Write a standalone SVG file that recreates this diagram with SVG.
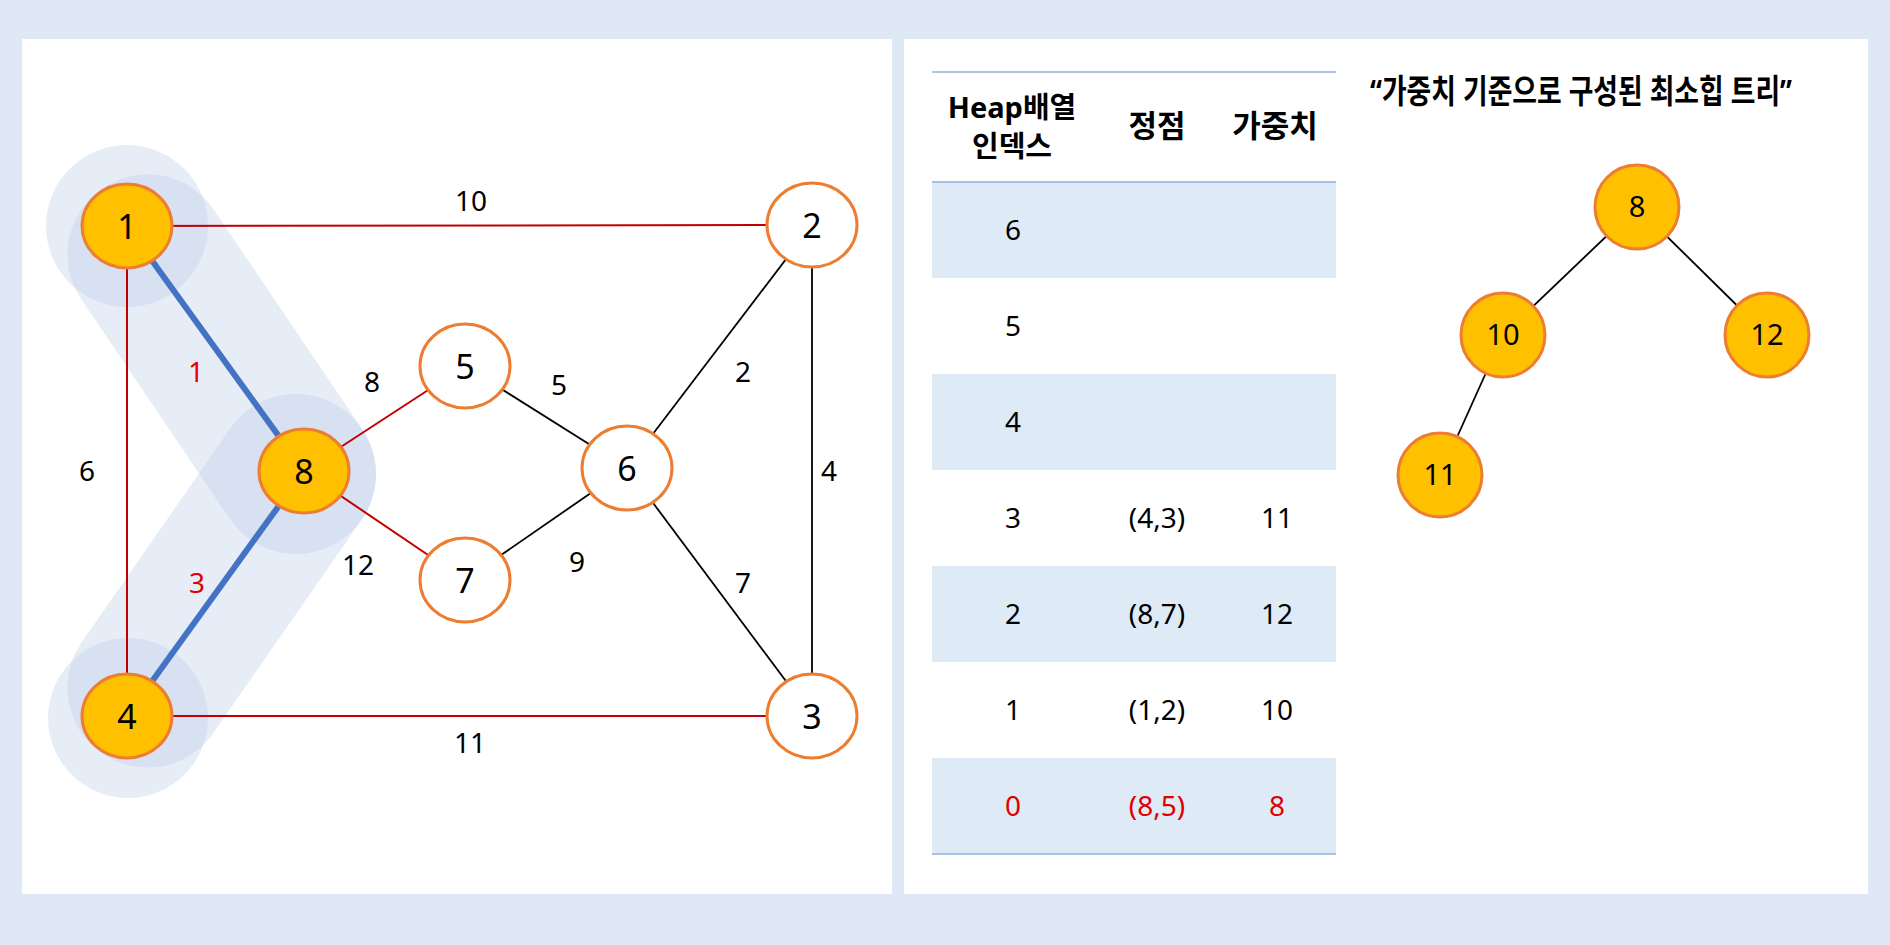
<svg xmlns="http://www.w3.org/2000/svg" width="1890" height="945" viewBox="0 0 1890 945">
<style>
.num{font-family:"Noto Sans","Open Sans","Noto Sans CJK KR",sans-serif;fill:#000;text-anchor:middle}
.lbl{font-size:28px}
.nd{font-size:34px}
.tn{font-size:29px}
.kr{font-family:"Noto Sans","Noto Sans CJK KR",sans-serif;font-weight:bold;fill:#000;text-anchor:middle;font-size:31px}
.kr2{font-size:29px}
.red{fill:#e00000}
.gold{fill:#ffc000;stroke:#ed7d31;stroke-width:3}
.wht{fill:#fff;stroke:#ed7d31;stroke-width:3}
.er{stroke:#c00000;stroke-width:2;fill:none}
.eb{stroke:#000;stroke-width:1.8;fill:none}
.ebl{stroke:#4472c4;stroke-width:6;fill:none}
.hl{fill:#b4c7e7;opacity:0.32}
.hlc{stroke:#b4c7e7;stroke-opacity:0.32;stroke-width:160;stroke-linecap:round;fill:none}
.row{fill:#deeaf6}
.tl{stroke:#8fb0dc;stroke-width:1.5}
</style>
<rect x="0" y="0" width="1890" height="945" fill="#dee9f5"/>
<rect x="22" y="39" width="870" height="855" fill="#fff"/>
<rect x="904" y="39" width="964" height="855" fill="#fff"/>

<g id="highlight">
<circle class="hl" cx="127" cy="226" r="81"/>
<circle class="hl" cx="128" cy="718" r="80"/>
<line class="hlc" x1="147.5" y1="254.4" x2="296" y2="474"/>
<line class="hlc" x1="147.5" y1="687.6" x2="296" y2="474"/>
</g>

<g id="connectors">
<line class="er" x1="127" y1="226" x2="812" y2="225"/>
<line class="er" x1="127" y1="226" x2="127" y2="716"/>
<line class="er" x1="127" y1="716" x2="812" y2="716"/>
<line class="er" x1="304" y1="471" x2="465" y2="366"/>
<line class="er" x1="304" y1="471" x2="465" y2="580"/>
<line class="eb" x1="465" y1="366" x2="627" y2="468"/>
<line class="eb" x1="465" y1="580" x2="627" y2="468"/>
<line class="eb" x1="812" y1="225" x2="627" y2="468"/>
<line class="eb" x1="812" y1="716" x2="627" y2="468"/>
<line class="eb" x1="812" y1="225" x2="812" y2="716"/>
<line class="ebl" x1="127" y1="226" x2="304" y2="471"/>
<line class="ebl" x1="127" y1="716" x2="304" y2="471"/>
<line class="eb" x1="1637" y1="207" x2="1503" y2="335"/>
<line class="eb" x1="1637" y1="207" x2="1767" y2="335"/>
<line class="eb" x1="1503" y1="335" x2="1440" y2="475"/>
</g>

<g id="edge-labels">
<text class="num lbl" x="471" y="211">10</text>
<text class="num lbl red" x="196" y="382">1</text>
<text class="num lbl" x="87" y="481">6</text>
<text class="num lbl red" x="197" y="593">3</text>
<text class="num lbl" x="372" y="392">8</text>
<text class="num lbl" x="358" y="575">12</text>
<text class="num lbl" x="559" y="395">5</text>
<text class="num lbl" x="577" y="572">9</text>
<text class="num lbl" x="743" y="382">2</text>
<text class="num lbl" x="829" y="481">4</text>
<text class="num lbl" x="743" y="593">7</text>
<text class="num lbl" x="470" y="753">11</text>
</g>

<g id="node-1"><ellipse class="gold" cx="127" cy="226" rx="45" ry="42"/><text class="num nd" x="127" y="239">1</text></g>
<g id="node-2"><ellipse class="wht" cx="812" cy="225" rx="45" ry="42"/><text class="num nd" x="812" y="238">2</text></g>
<g id="node-3"><ellipse class="wht" cx="812" cy="716" rx="45" ry="42"/><text class="num nd" x="812" y="729">3</text></g>
<g id="node-4"><ellipse class="gold" cx="127" cy="716" rx="45" ry="42"/><text class="num nd" x="127" y="729">4</text></g>
<g id="node-5"><ellipse class="wht" cx="465" cy="366" rx="45" ry="42"/><text class="num nd" x="465" y="379">5</text></g>
<g id="node-6"><ellipse class="wht" cx="627" cy="468" rx="45" ry="42"/><text class="num nd" x="627" y="481">6</text></g>
<g id="node-7"><ellipse class="wht" cx="465" cy="580" rx="45" ry="42"/><text class="num nd" x="465" y="593">7</text></g>
<g id="node-8"><ellipse class="gold" cx="304" cy="471" rx="45" ry="42"/><text class="num nd" x="304" y="484">8</text></g>

<g id="heap-table">
<rect class="row" x="932" y="182" width="404" height="96"/>
<rect class="row" x="932" y="374" width="404" height="96"/>
<rect class="row" x="932" y="566" width="404" height="96"/>
<rect class="row" x="932" y="758" width="404" height="96"/>
<line class="tl" x1="932" y1="72" x2="1336" y2="72"/>
<line class="tl" x1="932" y1="182" x2="1336" y2="182"/>
<line class="tl" x1="932" y1="854" x2="1336" y2="854"/>
<text class="kr kr2" x="1012" y="118">Heap배열</text>
<text class="kr kr2" x="1012" y="157">인덱스</text>
<text class="kr" x="1157" y="137">정점</text>
<text class="kr" x="1275" y="137">가중치</text>
<text class="num lbl" x="1013" y="240">6</text>
<text class="num lbl" x="1013" y="336">5</text>
<text class="num lbl" x="1013" y="432">4</text>
<text class="num lbl" x="1013" y="528">3</text>
<text class="num lbl" x="1157" y="528">(4,3)</text>
<text class="num lbl" x="1277" y="528">11</text>
<text class="num lbl" x="1013" y="624">2</text>
<text class="num lbl" x="1157" y="624">(8,7)</text>
<text class="num lbl" x="1277" y="624">12</text>
<text class="num lbl" x="1013" y="720">1</text>
<text class="num lbl" x="1157" y="720">(1,2)</text>
<text class="num lbl" x="1277" y="720">10</text>
<text class="num lbl red" x="1013" y="816">0</text>
<text class="num lbl red" x="1157" y="816">(8,5)</text>
<text class="num lbl red" x="1277" y="816">8</text>
</g>

<g id="tree-title"><text x="1370" y="103" textLength="422" lengthAdjust="spacingAndGlyphs" style="font-family:'Noto Sans','Noto Sans CJK KR',sans-serif;font-weight:bold;font-size:33px;fill:#000">“가중치 기준으로 구성된 최소힙 트리”</text></g>
<g id="tree-8"><circle class="gold" cx="1637" cy="207" r="42"/><text class="num tn" x="1637" y="217">8</text></g>
<g id="tree-10"><circle class="gold" cx="1503" cy="335" r="42"/><text class="num tn" x="1503" y="345">10</text></g>
<g id="tree-12"><circle class="gold" cx="1767" cy="335" r="42"/><text class="num tn" x="1767" y="345">12</text></g>
<g id="tree-11"><circle class="gold" cx="1440" cy="475" r="42"/><text class="num tn" x="1440" y="485">11</text></g>
</svg>
